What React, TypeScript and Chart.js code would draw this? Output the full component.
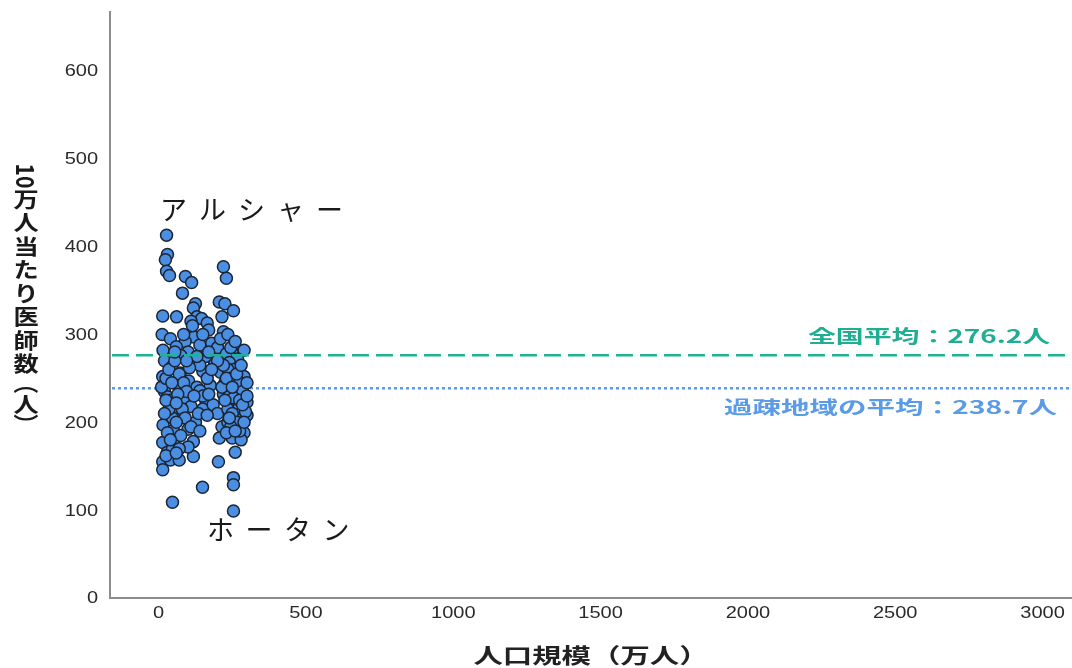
import React, { useEffect, useRef } from "react";
import { Chart, registerables } from "chart.js";

Chart.register(...registerables);

// [人口規模(万人), 10万人当たり医師数(人)]
const ruralAreas: [number, number][] = [
  [27, 413], [30, 391], [23, 385], [27, 372], [37, 367], [91, 366], [112, 359], [81, 347],
  [220, 377], [230, 364], [125, 335], [118, 330], [206, 337], [225, 335], [254, 327],
  [14, 321], [61, 320], [130, 320], [146, 318], [110, 315], [165, 313], [170, 305], [220, 303],
  [12, 300], [40, 295], [120, 297], [90, 292], [180, 290], [250, 280], [290, 282], [140, 288],
  [200, 285], [60, 286], [100, 280], [15, 282], [160, 275], [230, 278], [268, 272], [75, 276],
  [240, 268], [20, 270], [120, 268], [190, 266], [45, 263], [270, 262], [14, 252], [74, 256],
  [150, 258], [210, 257], [255, 260], [290, 252], [102, 247], [60, 244], [130, 240], [175, 242],
  [225, 245], [265, 238], [20, 235], [140, 236], [220, 232], [30, 229], [90, 228], [160, 225],
  [260, 223], [300, 223], [40, 225], [110, 218], [150, 215], [185, 220], [240, 218], [270, 215],
  [285, 212], [300, 208], [65, 212], [200, 210], [15, 197], [47, 205], [50, 191], [100, 192],
  [125, 200], [215, 195], [235, 200], [260, 205], [280, 195], [295, 212], [290, 188], [14, 177],
  [50, 177], [118, 178], [206, 182], [250, 182], [280, 180], [30, 166], [47, 170], [118, 161],
  [203, 155], [260, 166], [14, 155], [40, 157], [70, 157], [14, 146], [149, 126], [254, 137],
  [254, 129], [47, 109], [254, 99],
  [235, 260], [245, 250], [275, 245], [285, 235], [240, 230], [255, 228], [275, 225], [235, 215],
  [250, 210], [265, 200], [245, 195], [275, 190], [290, 200], [230, 188], [260, 190], [240, 205],
  [285, 220], [300, 230], [225, 225], [215, 240], [230, 250], [250, 240], [265, 255], [280, 265],
  [300, 245], [220, 265], [245, 285], [210, 295], [235, 300], [260, 292], [215, 320], [200, 270],
  [10, 240], [25, 250], [35, 260], [55, 270], [70, 255], [85, 245], [95, 235], [65, 232],
  [45, 245], [80, 215], [35, 215], [20, 210], [90, 205], [60, 200], [30, 188], [75, 185],
  [110, 195], [135, 210], [150, 230], [165, 250], [140, 265], [105, 262], [55, 280], [85, 300],
  [115, 310], [150, 300], [170, 280], [180, 260], [130, 275], [95, 270], [25, 225], [60, 222],
  [120, 230], [170, 232], [165, 208], [140, 190], [100, 172], [70, 170], [40, 180], [25, 162],
  [60, 165],
];
const populations = ruralAreas.map((p) => p[0]);
const doctorsPer100k = ruralAreas.map((p) => p[1]);

const nationalAverage = 276.2;
const ruralAverage = 238.7;

const xTickValues = [0, 500, 1000, 1500, 2000, 2500, 3000];
const yTickValues = [0, 100, 200, 300, 400, 500, 600];

const xTitle = "人口規模（万人）";
const yTitleParts = ["10", "万", "人", "当", "た", "り", "医", "師", "数", "（", "人", "）"];
const nationalLabel = "全国平均：276.2人";
const ruralLabel = "過疎地域の平均：238.7人";
const labelNorth = "アルシャー";
const labelSouth = "ホータン";

const CJK = "'Noto Sans CJK JP', 'Noto Sans', sans-serif";
const LATIN = "'Liberation Sans', Arial, sans-serif";

function fitText(ctx: CanvasRenderingContext2D, text: string, left: number, right: number, cy: number, font: string, color: string) {
  ctx.save();
  ctx.font = font;
  ctx.fillStyle = color;
  ctx.textBaseline = "middle";
  ctx.textAlign = "left";
  const w = ctx.measureText(text).width;
  const sx = (right - left) / w;
  ctx.translate(left, cy);
  ctx.scale(sx, 1);
  ctx.fillText(text, 0, 0);
  ctx.restore();
}

function stretchText(ctx: CanvasRenderingContext2D, text: string, x: number, cy: number, font: string, color: string, align: "left" | "right" | "center", sx: number) {
  ctx.save();
  ctx.font = font;
  ctx.fillStyle = color;
  ctx.textBaseline = "middle";
  ctx.textAlign = "left";
  const w = ctx.measureText(text).width * sx;
  const left = align === "left" ? x : align === "right" ? x - w : x - w / 2;
  ctx.translate(left, cy);
  ctx.scale(sx, 1);
  ctx.fillText(text, 0, 0);
  ctx.restore();
}

function spacedText(ctx: CanvasRenderingContext2D, text: string, left: number, cy: number, font: string, color: string, pitch: number) {
  ctx.save();
  ctx.font = font;
  ctx.fillStyle = color;
  ctx.textBaseline = "middle";
  ctx.textAlign = "center";
  const chars = Array.from(text);
  chars.forEach((ch, i) => {
    const cw = ctx.measureText(ch).width;
    ctx.fillText(ch, left + i * pitch + cw / 2, cy);
  });
  ctx.restore();
}

const refLinePlugin = {
  id: "refLines",
  beforeDatasetsDraw(chart: any) {
    const { ctx, chartArea, scales } = chart;
    const y = scales.y.getPixelForValue(ruralAverage);
    ctx.save();
    ctx.strokeStyle = "#5a9be8";
    ctx.lineWidth = 2.5;
    ctx.setLineDash([3, 3]);
    ctx.beginPath();
    ctx.moveTo(chartArea.left + 2, y);
    ctx.lineTo(chartArea.right, y);
    ctx.stroke();
    ctx.restore();
  },
  afterDatasetsDraw(chart: any) {
    const { ctx, chartArea, scales } = chart;
    const y = scales.y.getPixelForValue(nationalAverage);
    ctx.save();
    ctx.strokeStyle = "#1fb396";
    ctx.lineWidth = 2.5;
    ctx.setLineDash([17, 7]);
    ctx.beginPath();
    ctx.moveTo(chartArea.left + 2, y);
    ctx.lineTo(chartArea.right, y);
    ctx.stroke();
    ctx.restore();
  },
  afterDraw(chart: any) {
    const { ctx, chartArea, scales } = chart;
    // tick labels
    yTickValues.forEach((v) => {
      const py = scales.y.getPixelForValue(v);
      stretchText(ctx, String(v), chartArea.left - 12, py + 1, `16px ${LATIN}`, "#2a2a2a", "right", 1.25);
    });
    xTickValues.forEach((v) => {
      const px = scales.x.getPixelForValue(v);
      stretchText(ctx, String(v), px, chartArea.bottom + 16, `16px ${LATIN}`, "#2a2a2a", "center", 1.25);
    });
    // axis titles
    stretchText(ctx, xTitle, (chartArea.left + chartArea.right) / 2, 655, `bold 21px ${CJK}`, "#222", "center", 1.4);
    // vertical y title
    ctx.save();
    ctx.fillStyle = "#1a1a1a";
    ctx.textAlign = "center";
    ctx.textBaseline = "middle";
    ctx.font = `bold 21px ${CJK}`;
    let cy = 165;
    yTitleParts.forEach((part) => {
      const isParen = part === "（" || part === "）";
      const h = part === "10" ? 22 : isParen ? 17 : 23.5;
      const mid = cy + h / 2;
      ctx.save();
      ctx.translate(26, mid);
      if (part === "10" || isParen) {
        ctx.rotate(Math.PI / 2);
        ctx.scale(1, 1.2);
      } else {
        ctx.scale(1.2, 1);
      }
      ctx.fillText(part, 0, 0);
      ctx.restore();
      cy += h;
    });
    ctx.restore();
    // reference labels
    fitText(ctx, nationalLabel, 808, 1050, 336, `bold 18px ${CJK}`, "#1fae92");
    fitText(ctx, ruralLabel, 724, 1057, 407, `bold 18px ${CJK}`, "#5a9be8");
    // point annotations
    spacedText(ctx, labelNorth, 160, 210, `27px ${CJK}`, "#1a1a1a", 39);
    spacedText(ctx, labelSouth, 207, 530, `27px ${CJK}`, "#1a1a1a", 38.5);
  },
};

export default function App() {
  const canvasRef = useRef<HTMLCanvasElement | null>(null);

  useEffect(() => {
    const canvas = canvasRef.current;
    if (!canvas) return;
    const chart = new Chart(canvas, {
      type: "scatter",
      data: {
        datasets: [
          {
            label: "過疎地域",
            data: populations.map((x, i) => ({ x, y: doctorsPer100k[i] })),
            backgroundColor: "#4b8fe2",
            borderColor: "#1b2534",
            borderWidth: 1.5,
            pointRadius: 6,
          },
        ],
      },
      options: {
        animation: false,
        responsive: false,
        maintainAspectRatio: false,
        layout: { autoPadding: false, padding: { top: 12, right: 0, left: 0, bottom: 0 } },
        plugins: { legend: { display: false }, tooltip: { enabled: false } },
        scales: {
          x: {
            type: "linear",
            min: -165,
            max: 3100,
            grid: { display: false },
            border: { display: true, color: "#8c8c8c", width: 2 },
            ticks: { display: false },
            afterFit: (s: any) => {
              s.height = 70;
            },
          },
          y: {
            type: "linear",
            min: 0,
            max: 667,
            grid: { display: false },
            border: { display: true, color: "#8c8c8c", width: 2 },
            ticks: { display: false },
            afterFit: (s: any) => {
              s.width = 110;
            },
          },
        },
      },
      plugins: [refLinePlugin],
    });
    return () => chart.destroy();
  }, []);

  return (
    <div style={{ position: "fixed", left: 0, top: 0, width: 1072, height: 668, background: "#fff" }}>
      <canvas ref={canvasRef} width={1072} height={668} style={{ display: "block" }} />
    </div>
  );
}
